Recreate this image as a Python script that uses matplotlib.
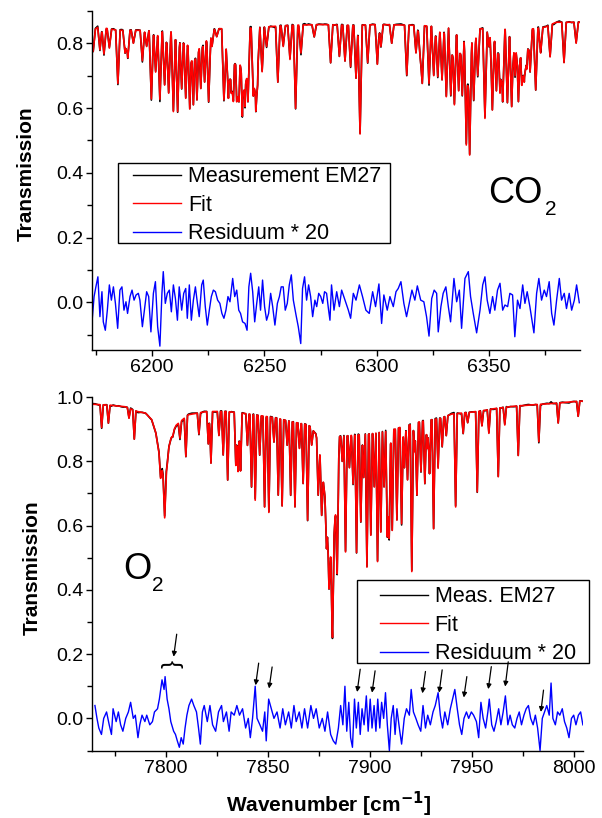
import numpy as np
import matplotlib
matplotlib.use("Agg")
import matplotlib.pyplot as plt
from matplotlib.patches import Rectangle

plt.rcParams['font.family'] = ['Liberation Sans', 'DejaVu Sans']

# ---------------- CO2 panel data ----------------
co2_base_wn = [6173, 6176, 6185, 6195, 6205, 6220, 6230, 6240, 6250, 6260, 6275, 6290,
               6300, 6320, 6335, 6350, 6365, 6375, 6380, 6391]
co2_base_T = [0.835, 0.85, 0.84, 0.84, 0.835, 0.835, 0.845, 0.845, 0.85, 0.855, 0.858, 0.855,
              0.858, 0.855, 0.845, 0.845, 0.84, 0.85, 0.865, 0.865]

co2_line_wn = [6173.8, 6176.8, 6178.6, 6181.0, 6184.8, 6188.0, 6189.2, 6191.7, 6195.7, 6197.6,
               6199.7, 6201.6, 6203.5, 6205.6, 6207.4, 6209.5, 6211.4, 6213.2, 6215.0, 6216.8,
               6218.4, 6220.0, 6221.7, 6223.4, 6225.2, 6226.7, 6228.8, 6232.0, 6232.9, 6234.0,
               6235.2, 6236.2, 6237.7, 6238.7, 6240.2, 6241.4, 6242.7, 6245.1, 6246.2, 6247.0,
               6249.0, 6251.0, 6256.0, 6258.4, 6261.4, 6263.9, 6266.3, 6272.2, 6279.5, 6283.4,
               6285.9, 6288.4, 6290.8, 6292.6, 6296.0, 6300.3, 6301.9, 6306.7, 6313.4, 6317.5,
               6319.3, 6320.3, 6323.3, 6325.4, 6327.2, 6329.1, 6331.0, 6333.0, 6334.6, 6336.5,
               6338.1, 6339.9, 6341.4, 6343.2, 6345.0, 6348.2, 6350.0, 6351.5, 6353.3, 6354.9,
               6356.1, 6358.2, 6360.1, 6361.6, 6363.1, 6364.6, 6365.7, 6366.8, 6368.3, 6370.8,
               6373.0, 6377.2, 6383.4, 6388.8]
co2_line_T = [0.775, 0.78, 0.767, 0.785, 0.676, 0.77, 0.755, 0.80, 0.746, 0.79,
              0.628, 0.711, 0.627, 0.671, 0.646, 0.589, 0.589, 0.66, 0.63, 0.597,
              0.61, 0.625, 0.66, 0.68, 0.62, 0.79, 0.82, 0.63, 0.775, 0.63,
              0.646, 0.62, 0.619, 0.62, 0.575, 0.604, 0.62, 0.637, 0.61, 0.71,
              0.712, 0.79, 0.68, 0.79, 0.75, 0.599, 0.77, 0.82, 0.74, 0.76,
              0.745, 0.728, 0.692, 0.52, 0.74, 0.735, 0.79, 0.80, 0.702, 0.77,
              0.76, 0.676, 0.676, 0.70, 0.697, 0.687, 0.635, 0.64, 0.61, 0.653,
              0.64, 0.486, 0.455, 0.625, 0.70, 0.568, 0.79, 0.594, 0.653, 0.646,
              0.62, 0.617, 0.604, 0.70, 0.62, 0.67, 0.68, 0.72, 0.712, 0.656,
              0.77, 0.758, 0.74, 0.80]

co2_res_wn = [6173.1, 6174.2, 6175.0, 6175.9, 6176.8, 6177.7, 6178.3, 6179.2, 6180.1, 6181.0,
              6181.9, 6182.8, 6183.7, 6184.7, 6185.7, 6186.6, 6187.5, 6188.4, 6189.1, 6190.2,
              6191.1, 6192.0, 6192.9, 6193.9, 6194.6, 6195.7, 6196.6, 6197.6, 6198.5, 6199.5,
              6200.6, 6201.5, 6202.5, 6203.5, 6204.4, 6205.0, 6205.9, 6206.8, 6207.7, 6208.6,
              6209.5, 6210.4, 6211.3, 6212.1, 6213.2, 6214.1, 6215.0, 6215.7, 6216.6, 6217.5,
              6218.4, 6219.3, 6220.2, 6221.0, 6222.1, 6222.8, 6223.7, 6224.6, 6225.5, 6226.4,
              6227.3, 6228.2, 6229.2, 6230.2, 6231.1, 6232.0, 6232.9, 6233.8, 6234.7, 6235.9,
              6236.8, 6237.7, 6238.6, 6239.4, 6240.3, 6241.4, 6242.3, 6243.1, 6243.9, 6244.8,
              6245.7, 6246.6, 6247.5, 6248.3, 6249.2, 6250.1, 6251.0, 6251.9, 6252.8, 6253.7,
              6254.7, 6255.8, 6256.7, 6257.5, 6258.4, 6259.3, 6260.2, 6261.1, 6262.0, 6262.9,
              6264.1, 6265.1, 6266.2, 6267.0, 6267.9, 6268.8, 6269.7, 6270.6, 6271.5, 6272.5,
              6273.3, 6274.2, 6275.1, 6276.0, 6276.8, 6277.7, 6278.6, 6279.2, 6279.9, 6281.0,
              6282.2, 6283.4, 6284.4, 6285.9, 6287.4, 6288.4, 6289.6, 6290.8, 6292.3, 6293.7,
              6295.2, 6296.7, 6298.2, 6299.5, 6301.0, 6302.2, 6303.2, 6304.7, 6305.9, 6307.4,
              6308.6, 6309.6, 6310.8, 6312.1, 6313.3, 6314.5, 6315.7, 6317.0, 6318.1, 6319.6,
              6321.0, 6322.2, 6323.3, 6324.5, 6325.6, 6326.7, 6327.4, 6328.6, 6329.6, 6330.8,
              6331.9, 6332.9, 6334.4, 6335.6, 6336.8, 6337.8, 6339.3, 6340.8, 6341.8, 6343.0,
              6344.5, 6346.0, 6347.2, 6348.2, 6349.2, 6350.4, 6351.6, 6352.6, 6353.8, 6354.9,
              6356.1, 6357.1, 6358.3, 6359.3, 6360.5, 6361.5, 6362.7, 6363.8, 6365.0, 6366.0,
              6367.0, 6368.2, 6370.0, 6371.2, 6372.2, 6373.4, 6374.6, 6375.6, 6376.8, 6377.9,
              6378.9, 6380.1, 6381.3, 6382.3, 6383.5, 6384.5, 6385.7, 6386.8, 6388.0, 6389.0,
              6390.2]
co2_res_val = [-0.075, 0.018, 0.048, 0.079, -0.044, 0.033, -0.060, -0.086, -0.024, 0.054,
               0.007, 0.048, -0.003, -0.080, 0.038, 0.048, -0.024, 0.002, -0.034, 0.018,
               0.038, 0.007, 0.023, 0.028, 0.007, -0.075, -0.024, 0.033, 0.018, -0.091,
               0.028, 0.064, -0.075, -0.135, 0.028, 0.095, -0.003, 0.028, 0.038, -0.029,
               0.054, 0.012, -0.055, 0.048, -0.024, 0.028, 0.043, -0.049, 0.054, -0.055,
               0.007, 0.048, -0.003, -0.044, 0.054, 0.069, -0.013, -0.070, -0.024, 0.018,
               0.038, 0.033, 0.007, -0.003, -0.034, -0.049, -0.024, 0.018, 0.002, 0.074,
               0.018, 0.038, -0.024, -0.034, -0.060, -0.065, -0.086, 0.048, 0.090, 0.033,
               -0.060, -0.003, 0.048, -0.024, 0.069, -0.013, -0.055, -0.034, 0.028, -0.013,
               -0.070, -0.003, 0.018, 0.048, 0.048, -0.024, -0.003, 0.054, 0.085, 0.007,
               -0.039, -0.075, -0.127, 0.043, 0.079, 0.007, 0.054, 0.018, -0.044, 0.007,
               -0.013, 0.028, 0.018, -0.003, 0.033, 0.028, -0.024, -0.055, 0.054, -0.024,
               0.033, -0.013, 0.038, 0.007, -0.024, -0.049, 0.028, 0.007, 0.054, 0.018,
               -0.024, -0.034, 0.033, -0.013, 0.057, -0.065, 0.023, -0.024, 0.018, -0.013,
               0.033, 0.043, 0.064, -0.003, -0.044, -0.003, 0.038, 0.007, 0.051, 0.007,
               0.002, -0.044, -0.104, 0.012, 0.038, 0.028, -0.091, -0.013, 0.028, 0.048,
               -0.013, -0.060, 0.074, 0.002, 0.038, -0.080, 0.074, 0.095, 0.018, -0.034,
               -0.094, -0.024, 0.054, 0.079, 0.007, -0.034, 0.018, -0.024, 0.038, 0.059,
               -0.024, -0.008, -0.013, 0.028, 0.023, -0.106, 0.007, -0.019, 0.054, -0.003,
               0.033, -0.013, -0.094, 0.028, 0.074, 0.007, 0.038, 0.018, 0.064, -0.034,
               -0.070, 0.007, 0.074, 0.007, 0.028, -0.019, 0.028, -0.024, 0.007, 0.054,
               -0.001]

# ---------------- O2 panel data ----------------
o2_base_wn = [7763, 7772, 7780, 7786, 7790, 7793, 7795, 7796.5, 7798, 7799.4, 7800.5, 7801.5,
              7803, 7805, 7811, 7820, 7830, 7840, 7854, 7861, 7870, 7873.5, 7875.5, 7877.5,
              7879.5, 7881.5, 7882.8, 7884, 7885.2, 7890, 7900, 7905, 7910, 7915, 7920, 7925,
              7930, 7935, 7940, 7945, 7950, 7955, 7960, 7970, 7980, 7990, 8000, 8006]
o2_base_T = [0.978, 0.975, 0.97, 0.955, 0.95, 0.93, 0.89, 0.83, 0.78, 0.72, 0.78, 0.845,
             0.885, 0.912, 0.945, 0.955, 0.955, 0.948, 0.935, 0.924, 0.913, 0.885, 0.82, 0.72,
             0.60, 0.45, 0.61, 0.68, 0.877, 0.88, 0.885, 0.89, 0.895, 0.906, 0.914, 0.924,
             0.929, 0.934, 0.947, 0.95, 0.953, 0.957, 0.963, 0.971, 0.976, 0.98, 0.986, 0.988]

o2_line_wn = [7768.5, 7771.8, 7781.9, 7784.5, 7797.4, 7799.4, 7803.3, 7806.9, 7809.8, 7816.2,
              7820.8, 7822.1, 7826.0, 7828.1, 7830.3, 7834.3, 7835.4, 7836.6, 7840.0, 7842.0,
              7843.8, 7846.0, 7848.4, 7850.5, 7853.0, 7855.1, 7857.0, 7859.5, 7861.2, 7863.3,
              7865.5, 7867.3, 7869.5, 7871.5, 7874.7, 7876.4, 7878.8, 7880.0, 7881.7, 7884.0,
              7886.5, 7888.1, 7890.0, 7891.8, 7893.5, 7895.6, 7897.0, 7898.6, 7900.5, 7902.2,
              7903.8, 7905.4, 7907.0, 7908.6, 7909.5, 7911.0, 7913.3, 7915.6, 7917.0, 7918.5,
              7920.6, 7922.0, 7923.1, 7925.1, 7927.0, 7928.2, 7929.3, 7931.3, 7933.5, 7935.5,
              7937.5, 7942.1, 7945.8, 7948.0, 7952.7, 7955.0, 7958.4, 7963.0, 7966.2, 7972.8,
              7982.9, 7992.4, 8002.2]
o2_line_T = [0.905, 0.919, 0.934, 0.869, 0.747, 0.624, 0.876, 0.872, 0.815, 0.885,
             0.854, 0.794, 0.88, 0.82, 0.742, 0.787, 0.768, 0.77, 0.85, 0.721,
             0.679, 0.82, 0.658, 0.641, 0.86, 0.695, 0.661, 0.85, 0.695, 0.658,
             0.84, 0.731, 0.617, 0.85, 0.695, 0.632, 0.528, 0.403, 0.252, 0.45,
             0.80, 0.518, 0.78, 0.73, 0.516, 0.612, 0.75, 0.471, 0.57, 0.72,
             0.488, 0.58, 0.72, 0.565, 0.56, 0.585, 0.617, 0.606, 0.78, 0.742,
             0.457, 0.83, 0.695, 0.768, 0.731, 0.84, 0.762, 0.59, 0.778, 0.846,
             0.88, 0.658, 0.887, 0.92, 0.705, 0.91, 0.887, 0.752, 0.913, 0.818,
             0.861, 0.919, 0.94]

o2_res_wn = [7765.2, 7766.2, 7767.1, 7768.4, 7769.5, 7770.9, 7772.2, 7773.3, 7774.1, 7775.6,
             7776.7, 7777.8, 7778.9, 7780.3, 7781.6, 7782.7, 7784.0, 7785.0, 7786.3, 7787.2,
             7788.3, 7789.7, 7790.6, 7792.1, 7793.4, 7794.4, 7795.9, 7796.8, 7798.1, 7799.1,
             7799.6, 7800.6, 7801.5, 7802.4, 7803.8, 7804.7, 7805.6, 7806.6, 7807.5, 7808.5,
             7809.4, 7810.3, 7811.3, 7812.6, 7813.7, 7815.0, 7816.0, 7816.9, 7817.9, 7818.8,
             7820.3, 7821.6, 7822.9, 7824.4, 7825.8, 7827.3, 7828.2, 7829.7, 7831.0, 7832.0,
             7833.5, 7834.8, 7836.1, 7837.6, 7839.1, 7840.4, 7841.4, 7842.5, 7843.8, 7844.7,
             7846.1, 7847.4, 7848.5, 7849.2, 7850.4, 7851.7, 7853.0, 7854.5, 7856.0, 7857.3,
             7858.6, 7860.2, 7861.5, 7862.8, 7863.9, 7865.4, 7866.7, 7868.0, 7869.5, 7871.1,
             7872.4, 7873.7, 7875.2, 7876.7, 7878.0, 7879.3, 7880.8, 7882.1, 7883.3, 7884.6,
             7885.7, 7886.8, 7887.8, 7888.7, 7889.7, 7890.6, 7891.5, 7892.5, 7893.4, 7894.4,
             7895.3, 7896.2, 7897.2, 7898.3, 7899.2, 7900.2, 7901.1, 7902.1, 7903.0, 7903.9,
             7904.9, 7905.8, 7906.8, 7907.7, 7908.6, 7909.6, 7910.5, 7911.5, 7912.4, 7913.3,
             7914.7, 7915.6, 7916.9, 7918.0, 7919.4, 7920.3, 7921.4, 7922.6, 7923.7, 7925.0,
             7926.1, 7927.3, 7928.4, 7929.7, 7931.0, 7932.1, 7933.5, 7934.6, 7935.7, 7936.8,
             7938.2, 7939.5, 7940.6, 7941.7, 7942.9, 7944.0, 7945.1, 7946.2, 7947.4, 7948.5,
             7949.8, 7950.9, 7952.3, 7953.4, 7954.5, 7955.6, 7956.8, 7957.9, 7958.6, 7959.8,
             7960.9, 7962.0, 7963.2, 7964.3, 7965.4, 7966.5, 7967.7, 7968.8, 7969.9, 7971.1,
             7972.2, 7973.3, 7974.4, 7975.6, 7976.7, 7977.8, 7978.9, 7980.1, 7981.2, 7982.3,
             7983.5, 7984.6, 7985.7, 7986.8, 7988.0, 7988.9, 7989.8, 7991.0, 7992.1, 7993.2,
             7994.4, 7995.5, 7996.6, 7997.7, 7998.9, 8000.0, 8001.1, 8002.3, 8003.4, 8004.5]
o2_res_val = [0.04, 0.0, -0.03, -0.05, 0.0, 0.02, -0.02, -0.05, 0.03, -0.01,
              0.02, -0.02, -0.04, 0.0, 0.02, 0.05, 0.0, 0.01, -0.06, -0.02,
              0.01, -0.01, 0.01, -0.02, -0.01, 0.02, 0.03, 0.06, 0.12, 0.09,
              0.13, 0.06, 0.03, -0.01, -0.04, -0.05, -0.07, -0.09, -0.06, -0.08,
              -0.03, 0.01, 0.04, 0.06, 0.04, 0.02, -0.03, -0.08, 0.02, 0.04,
              -0.01, 0.04, -0.02, -0.04, 0.02, 0.04, -0.01, 0.02, -0.04, 0.02,
              0.01, 0.04, 0.01, 0.03, -0.03, 0.0, -0.06, 0.0, 0.10, 0.0,
              -0.02, -0.04, 0.02, -0.07, 0.06, 0.03, 0.0, 0.02, -0.03, 0.03,
              -0.02, 0.02, -0.03, 0.04, -0.01, 0.02, -0.03, 0.03, -0.03, 0.04,
              0.0, 0.03, -0.03, 0.0, -0.04, 0.02, -0.05, -0.07, -0.08, -0.03,
              0.04, -0.02, 0.10, -0.04, 0.05, -0.06, -0.09, 0.06, -0.03, 0.05,
              -0.05, 0.03, -0.02, 0.07, -0.04, 0.06, -0.03, 0.04, -0.04, 0.06,
              -0.03, 0.05, 0.0, 0.08, -0.02, -0.10, 0.0, 0.04, -0.05, 0.03,
              -0.04, -0.08, 0.0, 0.03, 0.01, 0.09, 0.02, 0.0, -0.02, -0.04,
              0.04, -0.03, 0.01, -0.02, 0.02, 0.04, 0.08, 0.01, -0.03, 0.02,
              -0.02, 0.03, 0.06, 0.09, 0.03, -0.02, -0.05, 0.0, 0.02, 0.0,
              0.02, 0.01, -0.01, -0.06, 0.05, 0.0, -0.03, 0.02, 0.06, -0.02,
              -0.04, -0.01, 0.03, -0.02, 0.02, 0.07, -0.02, 0.01, -0.02, -0.03,
              0.0, 0.02, -0.02, 0.01, 0.03, 0.04, 0.0, -0.02, 0.01, -0.03,
              -0.10, 0.0, 0.02, 0.04, 0.01, 0.11, 0.0, -0.02, 0.02, 0.01,
              0.03, -0.01, -0.03, -0.06, 0.0, 0.01, -0.02, 0.01, 0.02, -0.02]

# annotation arrows in the O2 panel (tail -> tip)
arrow_tail_wn = [7805.3, 7845.5, 7852.1, 7895.3, 7902.6, 7927.3, 7935.5, 7947.6, 7959.6, 7967.9, 7985.2]
arrow_tail_T = [0.262, 0.172, 0.160, 0.153, 0.148, 0.146, 0.151, 0.130, 0.161, 0.176, 0.088]
arrow_tip_wn = [7803.8, 7844.0, 7850.6, 7893.8, 7901.1, 7925.8, 7934.0, 7946.1, 7958.1, 7966.4, 7983.9]
arrow_tip_T = [0.192, 0.103, 0.093, 0.082, 0.080, 0.078, 0.080, 0.065, 0.091, 0.099, 0.020]


def render(base_wn, base_T, line_wn, line_T, hw, lo, hi):
    x = np.arange(lo, hi + 0.05, 0.1)
    T = np.interp(x, base_wn, base_T)
    for c, t in zip(line_wn, line_T):
        b = np.interp(c, base_wn, base_T)
        d = max(0.0, 1.0 - t / b)
        T = T * (1.0 - d * np.clip(1.0 - np.abs(x - c) / hw, 0.0, None))
    return x, T


RED = '#ff0000'
BLUE = '#0000ff'
LW_SPEC = 1.2
LW_RES = 1.0
W, H = 602.0, 818.0

fig = plt.figure(figsize=(6.02, 8.18), dpi=100)
ax1 = fig.add_axes([0.1533, 0.5721, 0.8101, 0.4146])
ax2 = fig.add_axes([0.1533, 0.0825, 0.8156, 0.4321])

# --- top panel
x1, fit1 = render(co2_base_wn, co2_base_T, co2_line_wn, co2_line_T, 1.0, 6173.0, 6391.0)
meas1 = fit1 + np.interp(x1, co2_res_wn, co2_res_val) / 20.0
ax1.plot(x1, meas1, color='black', lw=LW_SPEC, label='Measurement EM27')
ax1.plot(x1, fit1, color=RED, lw=LW_SPEC, label='Fit')
ax1.plot(co2_res_wn, co2_res_val, color=BLUE, lw=LW_RES, label='Residuum * 20')
ax1.set_xlim(6173.4, 6390.5)
ax1.set_ylim(-0.147, 0.9)

# --- bottom panel
x2, fit2 = render(o2_base_wn, o2_base_T, o2_line_wn, o2_line_T, 0.8, 7763.5, 8005.5)
meas2 = fit2 + np.interp(x2, o2_res_wn, o2_res_val) / 20.0
ax2.plot(x2, meas2, color='black', lw=LW_SPEC, label='Meas. EM27')
ax2.plot(x2, fit2, color=RED, lw=LW_SPEC, label='Fit')
ax2.plot(o2_res_wn, o2_res_val, color=BLUE, lw=LW_RES, label='Residuum * 20')
ax2.set_xlim(7763.9, 8004.7)
ax2.set_ylim(-0.1, 1.0)

for ax in (ax1, ax2):
    for s in ('top', 'right'):
        ax.spines[s].set_visible(False)
    for s in ('left', 'bottom'):
        ax.spines[s].set_linewidth(1.0)
    ax.xaxis.set_major_locator(matplotlib.ticker.MultipleLocator(50))
    ax.xaxis.set_minor_locator(matplotlib.ticker.MultipleLocator(25))
    ax.yaxis.set_major_locator(matplotlib.ticker.MultipleLocator(0.2))
    ax.yaxis.set_minor_locator(matplotlib.ticker.MultipleLocator(0.1))
    ax.yaxis.set_major_formatter(matplotlib.ticker.FormatStrFormatter('%.1f'))
    ax.tick_params(which='major', direction='out', length=4, width=1.0, labelsize=14, pad=2.5)
    ax.tick_params(which='minor', direction='out', length=3.5, width=1.0)

# legends: content placed without frame, frame drawn as a box of the measured size
leg_kw = dict(loc='upper left', bbox_transform=fig.transFigure, fontsize=15.5, frameon=False,
              borderpad=0.0, labelspacing=0.34, handlelength=2.25, handletextpad=0.3,
              borderaxespad=0.0)
legend_specs = [
    (ax1, (133.0, 166.5), (118.4, 163.3, 389.5, 243.3)),
    (ax2, (379.8, 586.5), (356.5, 580.0, 589.0, 662.7)),
]
for ax, (hx, hy), (bx0, by0, bx1, by1) in legend_specs:
    lg = ax.legend(bbox_to_anchor=(hx / W, 1 - hy / H), **leg_kw)
    lg.set_zorder(6)
    for line in lg.get_lines():
        line.set_linewidth(1.0)
    ax.add_patch(Rectangle((bx0 / W, 1 - by1 / H), (bx1 - bx0) / W, (by1 - by0) / H,
                           transform=fig.transFigure, facecolor='white', edgecolor='black',
                           lw=1.0, zorder=5.5, clip_on=False))

# species labels
ax1.text(6349.8, 0.306, 'CO', fontsize=26, va='baseline', ha='left')
ax1.text(6374.8, 0.270, '2', fontsize=15, va='baseline', ha='left')
ax2.text(7778.9, 0.434, 'O', fontsize=26, va='baseline', ha='left')
ax2.text(7793.3, 0.395, '2', fontsize=15, va='baseline', ha='left')

# brace and arrows
ax2.text(7802.2, 0.170, '{', rotation=-90, fontsize=17, ha='center', va='center')
for tw, tT, hw_, hT in zip(arrow_tail_wn, arrow_tail_T, arrow_tip_wn, arrow_tip_T):
    ax2.annotate('', xy=(hw_, hT), xytext=(tw, tT),
                 arrowprops=dict(arrowstyle='-|>', color='black', lw=0.9,
                                 mutation_scale=7, shrinkA=0, shrinkB=0), zorder=7)

# axis labels
fig.text(0.0432, 0.7873, 'Transmission', rotation=90, ha='center', va='center',
         fontsize=15, fontweight='bold')
fig.text(0.054, 0.3062, 'Transmission', rotation=90, ha='center', va='center',
         fontsize=15, fontweight='bold')
fig.text(0.5465, 0.0077, 'Wavenumber [cm$^{\\mathbf{-1}}$]', ha='center', va='baseline',
         fontsize=15, fontweight='bold')

fig.savefig('out.png', dpi=100)
